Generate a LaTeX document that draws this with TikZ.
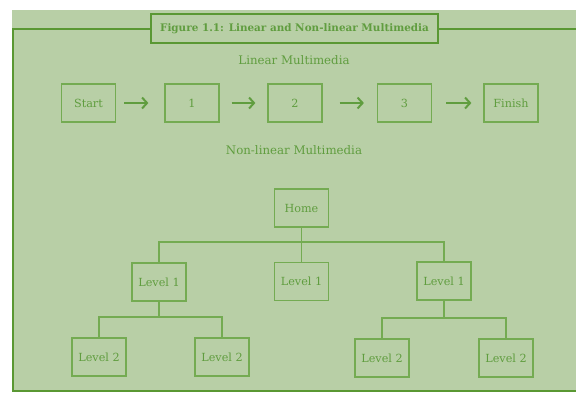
\documentclass[tikz,border=0pt]{standalone}
\usepackage{fontspec}
\setmainfont{DejaVu Serif}
\usetikzlibrary{arrows.meta}
\definecolor{panel}{HTML}{B8CFA6}
\definecolor{frame}{HTML}{5A9833}
\definecolor{ink}{HTML}{609D3F}
\definecolor{boxline}{HTML}{74AB52}
\begin{document}
\begin{tikzpicture}[x=1pt,y=-1pt,
  box/.style={draw=boxline, line width=1.2pt, minimum width=54pt, minimum height=38pt, inner sep=0pt, text=ink, font=\fontsize{11.2}{13}\selectfont},
  lbl/.style={text=ink, inner sep=0pt, font=\fontsize{11.8}{14}\selectfont},
  flow/.style={draw=ink, line width=2pt, -{Straight Barb[length=5pt,width=11pt]}},
  tree/.style={draw=boxline, line width=1.2pt},
  titlebox/.style={draw=frame, line width=1.6pt, fill=panel, minimum width=287pt, minimum height=29pt, inner sep=0pt, text=ink, font=\bfseries\fontsize{10.4}{12}\selectfont}]
\useasboundingbox (0,0) rectangle (576,392);
\fill[panel] (12,10) rectangle (576,392);
\draw[frame, line width=1.8pt] (151,29) -- (13,29) -- (13,391) -- (576,391);
\draw[frame, line width=1.8pt] (438,29) -- (576,29);
\node[titlebox] (title) at (294.5,28.5) {Figure 1.1: Linear and Non-linear Multimedia};
\node[lbl] (lin) at (294,60) {Linear Multimedia};
\node[lbl] (nonlin) at (294,150) {Non-linear Multimedia};
% linear chain
\node[box] (start) at (88.5,103) {Start};
\node[box] (n1) at (192,103) {1};
\node[box] (n2) at (295,103) {2};
\node[box] (n3) at (404.5,103) {3};
\node[box] (fin) at (511,103) {Finish};
\draw[flow, shorten <=8pt, shorten >=16pt] (start) -- (n1);
\draw[flow, shorten <=12pt, shorten >=12pt] (n1) -- (n2);
\draw[flow, shorten <=17pt, shorten >=13pt] (n2) -- (n3);
\draw[flow, shorten <=14pt, shorten >=12pt] (n3) -- (fin);
% tree
\node[box] (home) at (301.5,208) {Home};
\node[box] (l1a) at (159,282) {Level 1};
\node[box] (l1b) at (301.5,281.5) {Level 1};
\node[box] (l1c) at (444,281) {Level 1};
\node[box] (l2a) at (99,357) {Level 2};
\node[box] (l2b) at (222,357) {Level 2};
\node[box] (l2c) at (382,358) {Level 2};
\node[box] (l2d) at (506,358) {Level 2};
\coordinate (bus) at (301.5,242);
\coordinate (busa) at (159,317);
\coordinate (busc) at (444,318);
\draw[tree] (home) -- (l1b);
\draw[tree] (l1a.north) |- (bus) -| (l1c.north);
\draw[tree] (l1a) -- (busa);
\draw[tree] (l2a.north) |- (busa) -| (l2b.north);
\draw[tree] (l1c) -- (busc);
\draw[tree] (l2c.north) |- (busc) -| (l2d.north);
\end{tikzpicture}
\end{document}
